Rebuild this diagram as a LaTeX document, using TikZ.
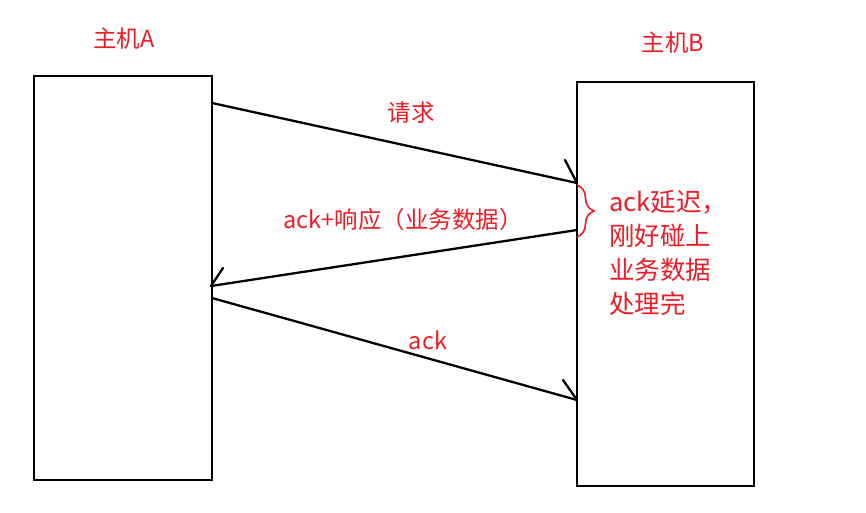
\documentclass[tikz,border=0pt]{standalone}
\usepackage{fontspec}
\setmainfont{Noto Sans CJK SC}
\usetikzlibrary{decorations.pathreplacing}
\definecolor{pred}{RGB}{237,28,36}
\tikzset{
  host/.style={draw=black, line width=2.6pt, minimum width=#1, inner sep=0pt},
  msg/.style={draw=black, line width=2.3pt, line cap=round},
  barb/.style={draw=black, line width=2.3pt, line cap=round},
  lbl/.style={text=pred, inner sep=0pt, font=\fontsize{23.5}{34.3}\selectfont},
  notelbl/.style={text=pred, inner sep=0pt, font=\fontsize{25.5}{34}\selectfont},
}
\begin{document}
\begin{tikzpicture}[x=1pt, y=-1pt]
\useasboundingbox (0,0) rectangle (866,512);
% hosts
\node[host=178pt, minimum height=404pt] (hostA) at (123,278) {};
\node[host=177pt, minimum height=404pt] (hostB) at (665.5,284) {};
\node[lbl, anchor=base] (tA) at (124,47) {主机A};
\node[lbl, anchor=base] (tB) at (673,51) {主机B};
% message endpoints
\coordinate (r1) at (212,103);
\coordinate (r2) at (577,183);
\coordinate (s1) at (577,230);
\coordinate (s2) at (211,286);
\coordinate (k1) at (212,298);
\coordinate (k2) at (577,400);
% messages
\draw[msg] (r1) -- (r2);
\draw[barb] (r2) -- ++(-12,-23);
\draw[msg] (s1) -- (s2);
\draw[barb] (s2) -- ++(12,-18);
\draw[msg] (k1) -- (k2);
\draw[barb] (k2) -- ++(-14,-20);
% labels
\node[lbl, anchor=base] (l1) at (411,121) {请求};
\node[lbl, anchor=base] (l2) at (403,228) {ack+响应（业务数据）};
\node[lbl, anchor=base] (l3) at (428,349) {ack};
% brace
\coordinate (bt) at (577,185);
\coordinate (bb) at (577,237);
\draw[pred, line width=1.6pt, decorate, decoration={brace, amplitude=17pt}] (bt) -- (bb);
\node[notelbl, anchor=base west, align=left] (note) at (609,313) {ack延迟，\\刚好碰上\\业务数据\\处理完};
\end{tikzpicture}
\end{document}
